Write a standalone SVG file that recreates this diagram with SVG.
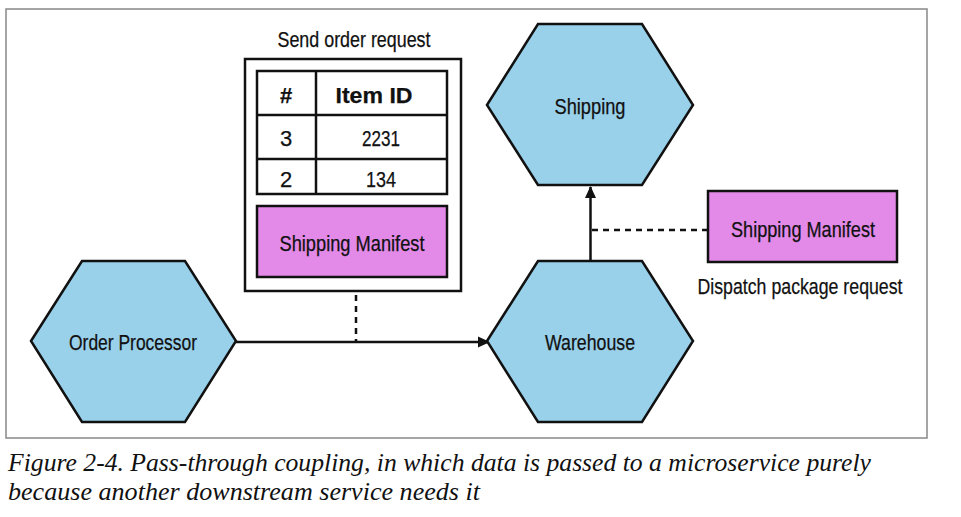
<svg xmlns="http://www.w3.org/2000/svg" width="961" height="517" viewBox="0 0 961 517">
<style>
.hex{fill:#99d0ea;stroke:#111;stroke-width:2.5;stroke-linejoin:miter}
.mag{fill:#e38ae8;stroke:#111;stroke-width:2.5}
.box{fill:#fff;stroke:#111;stroke-width:2.5}
.t{font-family:"Liberation Sans",Arial,sans-serif;font-size:22px;fill:#111;stroke:#111;stroke-width:0.25;text-anchor:middle;dominant-baseline:central}
.b{font-weight:bold}
.cap{font-family:"Liberation Serif","Times New Roman",serif;font-style:italic;font-size:26px;fill:#111}
.ln{stroke:#111;stroke-width:2.5;fill:none}
.dash{stroke:#111;stroke-width:2.5;fill:none;stroke-dasharray:6 5}
</style>
<defs>
<marker id="ah" markerWidth="12" markerHeight="12" refX="11" refY="6" orient="auto" markerUnits="userSpaceOnUse">
<path d="M0,0.5 L12,6 L0,11.5 Z" fill="#111"/>
</marker>
</defs>
<rect x="0" y="0" width="961" height="517" fill="#fff"/>
<rect x="6" y="9" width="921" height="429" fill="#fff" stroke="#888" stroke-width="1.5"/>

<g id="connectors">
<line class="ln" x1="236" y1="342" x2="489" y2="342" marker-end="url(#ah)"/>
<line class="dash" x1="356" y1="295" x2="356" y2="341"/>
<line class="ln" x1="590.5" y1="261" x2="590.5" y2="187" marker-end="url(#ah)"/>
<line class="dash" x1="592" y1="230" x2="708" y2="230"/>
</g>

<g id="order-processor">
<polygon class="hex" points="31,341 82,261 185,261 236,341 185,422 82,422"/>
<text class="t" x="133" y="342" textLength="128" lengthAdjust="spacingAndGlyphs">Order Processor</text>
</g>

<g id="warehouse">
<polygon class="hex" points="487,341 538,261 642,261 693,341 642,422 538,422"/>
<text class="t" x="590" y="342" textLength="90" lengthAdjust="spacingAndGlyphs">Warehouse</text>
</g>

<g id="shipping">
<polygon class="hex" points="487,105 538,24 642,24 693,105 642,185 538,185"/>
<text class="t" x="590" y="106" textLength="71" lengthAdjust="spacingAndGlyphs">Shipping</text>
</g>

<g id="send-order-request">
<text class="t" x="354" y="39" textLength="153" lengthAdjust="spacingAndGlyphs">Send order request</text>
<rect class="box" x="245" y="59" width="216" height="232"/>
<rect class="box" x="257" y="71" width="190" height="123"/>
<line class="ln" x1="316" y1="71" x2="316" y2="194"/>
<line class="ln" x1="257" y1="115" x2="447" y2="115"/>
<line class="ln" x1="257" y1="159" x2="447" y2="159"/>
<text class="t b" x="286" y="95">#</text>
<text class="t b" x="374" y="95" textLength="77" lengthAdjust="spacingAndGlyphs">Item ID</text>
<text class="t" x="286" y="138">3</text>
<text class="t" x="381" y="138" textLength="38" lengthAdjust="spacingAndGlyphs">2231</text>
<text class="t" x="381" y="179" textLength="30" lengthAdjust="spacingAndGlyphs">134</text>
<text class="t" x="286" y="179">2</text>
<rect class="mag" x="257" y="206" width="190" height="71"/>
<text class="t" x="352" y="243" textLength="145" lengthAdjust="spacingAndGlyphs">Shipping Manifest</text>
</g>

<g id="dispatch-package-request">
<rect class="mag" x="708" y="191" width="189" height="71"/>
<text class="t" x="803" y="229" textLength="144" lengthAdjust="spacingAndGlyphs">Shipping Manifest</text>
<text class="t" x="800" y="286" textLength="205" lengthAdjust="spacingAndGlyphs">Dispatch package request</text>
</g>

<text class="cap" x="8" y="471" textLength="863" lengthAdjust="spacingAndGlyphs">Figure 2-4. Pass-through coupling, in which data is passed to a microservice purely</text>
<text class="cap" x="8" y="500" textLength="472" lengthAdjust="spacingAndGlyphs">because another downstream service needs it</text>
</svg>
